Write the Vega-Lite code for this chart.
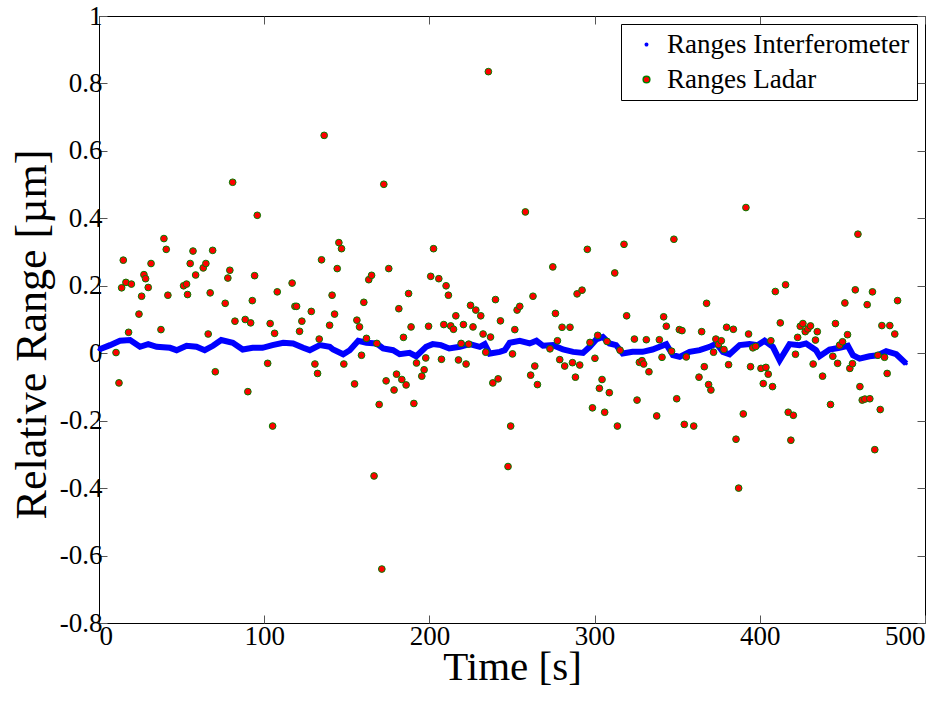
{
  "$schema": "https://vega.github.io/schema/vega-lite/v6.json",
  "width": 826,
  "height": 607,
  "autosize": {"type": "none"},
  "padding": {"left": 99, "top": 16, "right": 25, "bottom": 100},
  "background": "white",
  "config": {
    "view": {"stroke": "black", "strokeWidth": 1},
    "font": "Liberation Serif",
    "axis": {
      "labelFont": "Liberation Serif",
      "labelFontSize": 27,
      "labelColor": "black",
      "titleFont": "Liberation Serif",
      "titleFontWeight": "normal",
      "titleColor": "black",
      "grid": false,
      "domain": false,
      "tickColor": "#555555",
      "tickSize": -8,
      "tickWidth": 1
    },
    "legend": {
      "labelFont": "Liberation Serif",
      "labelFontSize": 27,
      "labelColor": "black",
      "labelLimit": 0
    }
  },
  "datasets": {
    "interf": [
      {"t": 0, "v": 0.011, "s": "Ranges Interferometer"},
      {"t": 6.7, "v": 0.024, "s": "Ranges Interferometer"},
      {"t": 12.7, "v": 0.037, "s": "Ranges Interferometer"},
      {"t": 18.8, "v": 0.039, "s": "Ranges Interferometer"},
      {"t": 24.8, "v": 0.019, "s": "Ranges Interferometer"},
      {"t": 29.8, "v": 0.027, "s": "Ranges Interferometer"},
      {"t": 34.9, "v": 0.019, "s": "Ranges Interferometer"},
      {"t": 43, "v": 0.016, "s": "Ranges Interferometer"},
      {"t": 47, "v": 0.009, "s": "Ranges Interferometer"},
      {"t": 53, "v": 0.022, "s": "Ranges Interferometer"},
      {"t": 59, "v": 0.019, "s": "Ranges Interferometer"},
      {"t": 64, "v": 0.009, "s": "Ranges Interferometer"},
      {"t": 69, "v": 0.022, "s": "Ranges Interferometer"},
      {"t": 74, "v": 0.039, "s": "Ranges Interferometer"},
      {"t": 81, "v": 0.031, "s": "Ranges Interferometer"},
      {"t": 87, "v": 0.011, "s": "Ranges Interferometer"},
      {"t": 93, "v": 0.016, "s": "Ranges Interferometer"},
      {"t": 99, "v": 0.016, "s": "Ranges Interferometer"},
      {"t": 105, "v": 0.024, "s": "Ranges Interferometer"},
      {"t": 111.5, "v": 0.031, "s": "Ranges Interferometer"},
      {"t": 117.5, "v": 0.029, "s": "Ranges Interferometer"},
      {"t": 123.6, "v": 0.016, "s": "Ranges Interferometer"},
      {"t": 127.6, "v": 0.009, "s": "Ranges Interferometer"},
      {"t": 133.7, "v": 0.024, "s": "Ranges Interferometer"},
      {"t": 139.7, "v": 0.019, "s": "Ranges Interferometer"},
      {"t": 141.7, "v": 0.011, "s": "Ranges Interferometer"},
      {"t": 147.8, "v": -0.003, "s": "Ranges Interferometer"},
      {"t": 151.8, "v": 0.009, "s": "Ranges Interferometer"},
      {"t": 156.9, "v": 0.037, "s": "Ranges Interferometer"},
      {"t": 161.9, "v": 0.031, "s": "Ranges Interferometer"},
      {"t": 168, "v": 0.029, "s": "Ranges Interferometer"},
      {"t": 172, "v": 0.014, "s": "Ranges Interferometer"},
      {"t": 178, "v": 0.009, "s": "Ranges Interferometer"},
      {"t": 182, "v": -0.003, "s": "Ranges Interferometer"},
      {"t": 188, "v": 0.001, "s": "Ranges Interferometer"},
      {"t": 192, "v": -0.009, "s": "Ranges Interferometer"},
      {"t": 198, "v": 0.019, "s": "Ranges Interferometer"},
      {"t": 202, "v": 0.027, "s": "Ranges Interferometer"},
      {"t": 207, "v": 0.024, "s": "Ranges Interferometer"},
      {"t": 212, "v": 0.014, "s": "Ranges Interferometer"},
      {"t": 218.4, "v": 0.019, "s": "Ranges Interferometer"},
      {"t": 224.4, "v": 0.027, "s": "Ranges Interferometer"},
      {"t": 230.5, "v": 0.019, "s": "Ranges Interferometer"},
      {"t": 233.5, "v": 0.027, "s": "Ranges Interferometer"},
      {"t": 236.5, "v": -0.001, "s": "Ranges Interferometer"},
      {"t": 242.6, "v": 0.004, "s": "Ranges Interferometer"},
      {"t": 245.6, "v": 0.009, "s": "Ranges Interferometer"},
      {"t": 248.6, "v": 0.031, "s": "Ranges Interferometer"},
      {"t": 254.7, "v": 0.037, "s": "Ranges Interferometer"},
      {"t": 260.7, "v": 0.029, "s": "Ranges Interferometer"},
      {"t": 264.8, "v": 0.037, "s": "Ranges Interferometer"},
      {"t": 268.8, "v": 0.022, "s": "Ranges Interferometer"},
      {"t": 274.8, "v": 0.024, "s": "Ranges Interferometer"},
      {"t": 280.9, "v": 0.011, "s": "Ranges Interferometer"},
      {"t": 287, "v": 0.004, "s": "Ranges Interferometer"},
      {"t": 293, "v": 0.001, "s": "Ranges Interferometer"},
      {"t": 297, "v": 0.019, "s": "Ranges Interferometer"},
      {"t": 301, "v": 0.041, "s": "Ranges Interferometer"},
      {"t": 305, "v": 0.048, "s": "Ranges Interferometer"},
      {"t": 309, "v": 0.029, "s": "Ranges Interferometer"},
      {"t": 313, "v": 0.024, "s": "Ranges Interferometer"},
      {"t": 317, "v": -0.001, "s": "Ranges Interferometer"},
      {"t": 323, "v": 0.004, "s": "Ranges Interferometer"},
      {"t": 329, "v": 0.004, "s": "Ranges Interferometer"},
      {"t": 335, "v": 0.011, "s": "Ranges Interferometer"},
      {"t": 343.4, "v": 0.027, "s": "Ranges Interferometer"},
      {"t": 347.4, "v": -0.006, "s": "Ranges Interferometer"},
      {"t": 351.5, "v": -0.011, "s": "Ranges Interferometer"},
      {"t": 357.5, "v": 0.004, "s": "Ranges Interferometer"},
      {"t": 363.6, "v": 0.009, "s": "Ranges Interferometer"},
      {"t": 369.6, "v": 0.019, "s": "Ranges Interferometer"},
      {"t": 373.7, "v": 0.029, "s": "Ranges Interferometer"},
      {"t": 377.7, "v": 0.004, "s": "Ranges Interferometer"},
      {"t": 381.7, "v": -0.003, "s": "Ranges Interferometer"},
      {"t": 387.8, "v": 0.024, "s": "Ranges Interferometer"},
      {"t": 393.8, "v": 0.027, "s": "Ranges Interferometer"},
      {"t": 398.8, "v": 0.024, "s": "Ranges Interferometer"},
      {"t": 402.9, "v": 0.037, "s": "Ranges Interferometer"},
      {"t": 407.9, "v": 0.019, "s": "Ranges Interferometer"},
      {"t": 412, "v": -0.021, "s": "Ranges Interferometer"},
      {"t": 418, "v": 0.027, "s": "Ranges Interferometer"},
      {"t": 424, "v": 0.024, "s": "Ranges Interferometer"},
      {"t": 428, "v": 0.029, "s": "Ranges Interferometer"},
      {"t": 434, "v": 0.009, "s": "Ranges Interferometer"},
      {"t": 436.2, "v": -0.009, "s": "Ranges Interferometer"},
      {"t": 442.2, "v": 0.011, "s": "Ranges Interferometer"},
      {"t": 448.3, "v": 0.016, "s": "Ranges Interferometer"},
      {"t": 453.3, "v": 0.022, "s": "Ranges Interferometer"},
      {"t": 456.4, "v": -0.006, "s": "Ranges Interferometer"},
      {"t": 460.4, "v": -0.016, "s": "Ranges Interferometer"},
      {"t": 466.4, "v": -0.009, "s": "Ranges Interferometer"},
      {"t": 471.5, "v": -0.006, "s": "Ranges Interferometer"},
      {"t": 476.5, "v": 0.006, "s": "Ranges Interferometer"},
      {"t": 482.6, "v": -0.003, "s": "Ranges Interferometer"},
      {"t": 488.6, "v": -0.031, "s": "Ranges Interferometer"}
    ],
    "ladar": [
      {"t": 10.3, "v": 0.002, "s": "Ranges Ladar"},
      {"t": 12.1, "v": -0.088, "s": "Ranges Ladar"},
      {"t": 13.7, "v": 0.194, "s": "Ranges Ladar"},
      {"t": 14.7, "v": 0.276, "s": "Ranges Ladar"},
      {"t": 16.3, "v": 0.21, "s": "Ranges Ladar"},
      {"t": 17.9, "v": 0.062, "s": "Ranges Ladar"},
      {"t": 19.6, "v": 0.205, "s": "Ranges Ladar"},
      {"t": 24.2, "v": 0.116, "s": "Ranges Ladar"},
      {"t": 25.8, "v": 0.169, "s": "Ranges Ladar"},
      {"t": 27.2, "v": 0.233, "s": "Ranges Ladar"},
      {"t": 28.2, "v": 0.221, "s": "Ranges Ladar"},
      {"t": 29.8, "v": 0.195, "s": "Ranges Ladar"},
      {"t": 31.5, "v": 0.266, "s": "Ranges Ladar"},
      {"t": 37.5, "v": 0.07, "s": "Ranges Ladar"},
      {"t": 39.3, "v": 0.34, "s": "Ranges Ladar"},
      {"t": 40.7, "v": 0.308, "s": "Ranges Ladar"},
      {"t": 41.7, "v": 0.172, "s": "Ranges Ladar"},
      {"t": 51.2, "v": 0.2, "s": "Ranges Ladar"},
      {"t": 53, "v": 0.205, "s": "Ranges Ladar"},
      {"t": 53.6, "v": 0.174, "s": "Ranges Ladar"},
      {"t": 55.2, "v": 0.266, "s": "Ranges Ladar"},
      {"t": 56.9, "v": 0.303, "s": "Ranges Ladar"},
      {"t": 58.5, "v": 0.232, "s": "Ranges Ladar"},
      {"t": 63.1, "v": 0.253, "s": "Ranges Ladar"},
      {"t": 64.7, "v": 0.266, "s": "Ranges Ladar"},
      {"t": 66.1, "v": 0.057, "s": "Ranges Ladar"},
      {"t": 67.3, "v": 0.179, "s": "Ranges Ladar"},
      {"t": 68.8, "v": 0.305, "s": "Ranges Ladar"},
      {"t": 70.4, "v": -0.055, "s": "Ranges Ladar"},
      {"t": 76.4, "v": 0.148, "s": "Ranges Ladar"},
      {"t": 78, "v": 0.223, "s": "Ranges Ladar"},
      {"t": 79.2, "v": 0.246, "s": "Ranges Ladar"},
      {"t": 80.9, "v": 0.507, "s": "Ranges Ladar"},
      {"t": 82.3, "v": 0.095, "s": "Ranges Ladar"},
      {"t": 88.5, "v": 0.1, "s": "Ranges Ladar"},
      {"t": 90.1, "v": -0.114, "s": "Ranges Ladar"},
      {"t": 91.8, "v": 0.09, "s": "Ranges Ladar"},
      {"t": 92.8, "v": 0.156, "s": "Ranges Ladar"},
      {"t": 94.2, "v": 0.23, "s": "Ranges Ladar"},
      {"t": 95.8, "v": 0.409, "s": "Ranges Ladar"},
      {"t": 102.1, "v": -0.03, "s": "Ranges Ladar"},
      {"t": 103.6, "v": 0.088, "s": "Ranges Ladar"},
      {"t": 105.1, "v": -0.216, "s": "Ranges Ladar"},
      {"t": 106.3, "v": 0.059, "s": "Ranges Ladar"},
      {"t": 107.9, "v": 0.182, "s": "Ranges Ladar"},
      {"t": 116.9, "v": 0.208, "s": "Ranges Ladar"},
      {"t": 118.6, "v": 0.139, "s": "Ranges Ladar"},
      {"t": 119.6, "v": 0.139, "s": "Ranges Ladar"},
      {"t": 121.4, "v": 0.065, "s": "Ranges Ladar"},
      {"t": 122.8, "v": 0.095, "s": "Ranges Ladar"},
      {"t": 128.5, "v": 0.124, "s": "Ranges Ladar"},
      {"t": 130.7, "v": -0.032, "s": "Ranges Ladar"},
      {"t": 132.3, "v": -0.06, "s": "Ranges Ladar"},
      {"t": 133.3, "v": 0.042, "s": "Ranges Ladar"},
      {"t": 134.7, "v": 0.277, "s": "Ranges Ladar"},
      {"t": 136.3, "v": 0.646, "s": "Ranges Ladar"},
      {"t": 139.6, "v": 0.083, "s": "Ranges Ladar"},
      {"t": 141.1, "v": 0.172, "s": "Ranges Ladar"},
      {"t": 142.6, "v": 0.116, "s": "Ranges Ladar"},
      {"t": 144.2, "v": 0.251, "s": "Ranges Ladar"},
      {"t": 145.2, "v": 0.328, "s": "Ranges Ladar"},
      {"t": 146.8, "v": 0.31, "s": "Ranges Ladar"},
      {"t": 148.2, "v": -0.032, "s": "Ranges Ladar"},
      {"t": 154.7, "v": -0.091, "s": "Ranges Ladar"},
      {"t": 156.1, "v": 0.098, "s": "Ranges Ladar"},
      {"t": 157.7, "v": 0.078, "s": "Ranges Ladar"},
      {"t": 158.9, "v": -0.006, "s": "Ranges Ladar"},
      {"t": 160.3, "v": 0.151, "s": "Ranges Ladar"},
      {"t": 161.9, "v": 0.044, "s": "Ranges Ladar"},
      {"t": 163.3, "v": 0.218, "s": "Ranges Ladar"},
      {"t": 165, "v": 0.231, "s": "Ranges Ladar"},
      {"t": 166.5, "v": -0.364, "s": "Ranges Ladar"},
      {"t": 168.2, "v": 0.029, "s": "Ranges Ladar"},
      {"t": 169.6, "v": -0.152, "s": "Ranges Ladar"},
      {"t": 171.2, "v": -0.64, "s": "Ranges Ladar"},
      {"t": 172.4, "v": 0.501, "s": "Ranges Ladar"},
      {"t": 173.8, "v": -0.082, "s": "Ranges Ladar"},
      {"t": 175.4, "v": 0.251, "s": "Ranges Ladar"},
      {"t": 178.6, "v": -0.109, "s": "Ranges Ladar"},
      {"t": 180.1, "v": -0.062, "s": "Ranges Ladar"},
      {"t": 181.5, "v": 0.132, "s": "Ranges Ladar"},
      {"t": 183.3, "v": -0.078, "s": "Ranges Ladar"},
      {"t": 184.3, "v": 0.047, "s": "Ranges Ladar"},
      {"t": 185.9, "v": -0.094, "s": "Ranges Ladar"},
      {"t": 187.4, "v": 0.177, "s": "Ranges Ladar"},
      {"t": 188.9, "v": 0.078, "s": "Ranges Ladar"},
      {"t": 190.6, "v": -0.149, "s": "Ranges Ladar"},
      {"t": 192.2, "v": -0.029, "s": "Ranges Ladar"},
      {"t": 195.4, "v": -0.068, "s": "Ranges Ladar"},
      {"t": 196.8, "v": -0.049, "s": "Ranges Ladar"},
      {"t": 197.8, "v": -0.014, "s": "Ranges Ladar"},
      {"t": 199.5, "v": 0.08, "s": "Ranges Ladar"},
      {"t": 200.8, "v": 0.228, "s": "Ranges Ladar"},
      {"t": 202.5, "v": 0.31, "s": "Ranges Ladar"},
      {"t": 205.7, "v": 0.221, "s": "Ranges Ladar"},
      {"t": 207.3, "v": -0.018, "s": "Ranges Ladar"},
      {"t": 208.7, "v": 0.085, "s": "Ranges Ladar"},
      {"t": 210.1, "v": 0.2, "s": "Ranges Ladar"},
      {"t": 211.5, "v": 0.172, "s": "Ranges Ladar"},
      {"t": 212.9, "v": 0.081, "s": "Ranges Ladar"},
      {"t": 214.6, "v": 0.071, "s": "Ranges Ladar"},
      {"t": 216, "v": 0.111, "s": "Ranges Ladar"},
      {"t": 217.6, "v": -0.02, "s": "Ranges Ladar"},
      {"t": 219.2, "v": 0.029, "s": "Ranges Ladar"},
      {"t": 220.6, "v": 0.085, "s": "Ranges Ladar"},
      {"t": 222.2, "v": -0.032, "s": "Ranges Ladar"},
      {"t": 223.8, "v": 0.027, "s": "Ranges Ladar"},
      {"t": 224.9, "v": 0.142, "s": "Ranges Ladar"},
      {"t": 226.4, "v": 0.078, "s": "Ranges Ladar"},
      {"t": 228.1, "v": 0.128, "s": "Ranges Ladar"},
      {"t": 231.1, "v": 0.111, "s": "Ranges Ladar"},
      {"t": 232.5, "v": 0.057, "s": "Ranges Ladar"},
      {"t": 234.1, "v": 0.003, "s": "Ranges Ladar"},
      {"t": 235.7, "v": 0.835, "s": "Ranges Ladar"},
      {"t": 237, "v": 0.048, "s": "Ranges Ladar"},
      {"t": 238.4, "v": -0.088, "s": "Ranges Ladar"},
      {"t": 240, "v": 0.159, "s": "Ranges Ladar"},
      {"t": 241.6, "v": -0.076, "s": "Ranges Ladar"},
      {"t": 243, "v": 0.096, "s": "Ranges Ladar"},
      {"t": 247.6, "v": -0.336, "s": "Ranges Ladar"},
      {"t": 249.2, "v": -0.216, "s": "Ranges Ladar"},
      {"t": 250.3, "v": -0.002, "s": "Ranges Ladar"},
      {"t": 251.7, "v": 0.07, "s": "Ranges Ladar"},
      {"t": 253.1, "v": 0.128, "s": "Ranges Ladar"},
      {"t": 254.7, "v": 0.139, "s": "Ranges Ladar"},
      {"t": 258.1, "v": 0.419, "s": "Ranges Ladar"},
      {"t": 261.3, "v": -0.065, "s": "Ranges Ladar"},
      {"t": 262.7, "v": 0.169, "s": "Ranges Ladar"},
      {"t": 263.8, "v": -0.038, "s": "Ranges Ladar"},
      {"t": 265.4, "v": -0.093, "s": "Ranges Ladar"},
      {"t": 273, "v": 0.013, "s": "Ranges Ladar"},
      {"t": 274.7, "v": 0.256, "s": "Ranges Ladar"},
      {"t": 276.3, "v": 0.118, "s": "Ranges Ladar"},
      {"t": 277.5, "v": 0.037, "s": "Ranges Ladar"},
      {"t": 278.9, "v": -0.019, "s": "Ranges Ladar"},
      {"t": 280.3, "v": 0.077, "s": "Ranges Ladar"},
      {"t": 281.9, "v": -0.038, "s": "Ranges Ladar"},
      {"t": 285.1, "v": 0.077, "s": "Ranges Ladar"},
      {"t": 286.6, "v": -0.028, "s": "Ranges Ladar"},
      {"t": 288.4, "v": -0.071, "s": "Ranges Ladar"},
      {"t": 289.4, "v": 0.176, "s": "Ranges Ladar"},
      {"t": 291, "v": -0.035, "s": "Ranges Ladar"},
      {"t": 292.4, "v": 0.187, "s": "Ranges Ladar"},
      {"t": 295.6, "v": 0.308, "s": "Ranges Ladar"},
      {"t": 297.2, "v": 0.032, "s": "Ranges Ladar"},
      {"t": 298.7, "v": -0.162, "s": "Ranges Ladar"},
      {"t": 300.2, "v": -0.015, "s": "Ranges Ladar"},
      {"t": 301.9, "v": 0.053, "s": "Ranges Ladar"},
      {"t": 302.9, "v": -0.104, "s": "Ranges Ladar"},
      {"t": 304.5, "v": -0.078, "s": "Ranges Ladar"},
      {"t": 306.1, "v": -0.175, "s": "Ranges Ladar"},
      {"t": 307.5, "v": 0.035, "s": "Ranges Ladar"},
      {"t": 308.9, "v": -0.117, "s": "Ranges Ladar"},
      {"t": 312.2, "v": 0.238, "s": "Ranges Ladar"},
      {"t": 313.8, "v": -0.216, "s": "Ranges Ladar"},
      {"t": 315.4, "v": 0.009, "s": "Ranges Ladar"},
      {"t": 317.8, "v": 0.323, "s": "Ranges Ladar"},
      {"t": 319.4, "v": 0.111, "s": "Ranges Ladar"},
      {"t": 324.1, "v": 0.042, "s": "Ranges Ladar"},
      {"t": 325.7, "v": -0.139, "s": "Ranges Ladar"},
      {"t": 327.1, "v": -0.027, "s": "Ranges Ladar"},
      {"t": 328.7, "v": -0.022, "s": "Ranges Ladar"},
      {"t": 329.7, "v": -0.032, "s": "Ranges Ladar"},
      {"t": 331.3, "v": 0.04, "s": "Ranges Ladar"},
      {"t": 332.9, "v": -0.055, "s": "Ranges Ladar"},
      {"t": 337.6, "v": -0.186, "s": "Ranges Ladar"},
      {"t": 339.2, "v": 0.04, "s": "Ranges Ladar"},
      {"t": 340.8, "v": -0.012, "s": "Ranges Ladar"},
      {"t": 341.8, "v": 0.108, "s": "Ranges Ladar"},
      {"t": 343.4, "v": 0.08, "s": "Ranges Ladar"},
      {"t": 346.6, "v": 0.006, "s": "Ranges Ladar"},
      {"t": 348, "v": 0.338, "s": "Ranges Ladar"},
      {"t": 349.7, "v": -0.135, "s": "Ranges Ladar"},
      {"t": 351.3, "v": 0.07, "s": "Ranges Ladar"},
      {"t": 352.9, "v": 0.067, "s": "Ranges Ladar"},
      {"t": 354.3, "v": -0.211, "s": "Ranges Ladar"},
      {"t": 355.5, "v": -0.011, "s": "Ranges Ladar"},
      {"t": 360, "v": -0.216, "s": "Ranges Ladar"},
      {"t": 363.2, "v": -0.071, "s": "Ranges Ladar"},
      {"t": 364.8, "v": 0.064, "s": "Ranges Ladar"},
      {"t": 366.4, "v": -0.04, "s": "Ranges Ladar"},
      {"t": 367.8, "v": 0.148, "s": "Ranges Ladar"},
      {"t": 369, "v": -0.093, "s": "Ranges Ladar"},
      {"t": 370.4, "v": -0.109, "s": "Ranges Ladar"},
      {"t": 372, "v": 0.003, "s": "Ranges Ladar"},
      {"t": 373.4, "v": 0.042, "s": "Ranges Ladar"},
      {"t": 375, "v": 0.026, "s": "Ranges Ladar"},
      {"t": 376.7, "v": 0.037, "s": "Ranges Ladar"},
      {"t": 378.3, "v": 0.011, "s": "Ranges Ladar"},
      {"t": 379.9, "v": 0.077, "s": "Ranges Ladar"},
      {"t": 381.1, "v": -0.034, "s": "Ranges Ladar"},
      {"t": 384, "v": 0.071, "s": "Ranges Ladar"},
      {"t": 385.6, "v": -0.255, "s": "Ranges Ladar"},
      {"t": 387.2, "v": -0.4, "s": "Ranges Ladar"},
      {"t": 390, "v": -0.18, "s": "Ranges Ladar"},
      {"t": 391.6, "v": 0.432, "s": "Ranges Ladar"},
      {"t": 393.2, "v": 0.057, "s": "Ranges Ladar"},
      {"t": 394.4, "v": -0.04, "s": "Ranges Ladar"},
      {"t": 395.8, "v": 0.016, "s": "Ranges Ladar"},
      {"t": 397.5, "v": 0.02, "s": "Ranges Ladar"},
      {"t": 400.7, "v": -0.045, "s": "Ranges Ladar"},
      {"t": 402.1, "v": -0.09, "s": "Ranges Ladar"},
      {"t": 403.7, "v": -0.042, "s": "Ranges Ladar"},
      {"t": 405.1, "v": -0.062, "s": "Ranges Ladar"},
      {"t": 406.7, "v": 0.037, "s": "Ranges Ladar"},
      {"t": 407.7, "v": -0.099, "s": "Ranges Ladar"},
      {"t": 409.4, "v": 0.183, "s": "Ranges Ladar"},
      {"t": 412.4, "v": 0.09, "s": "Ranges Ladar"},
      {"t": 415.6, "v": 0.203, "s": "Ranges Ladar"},
      {"t": 417.2, "v": -0.175, "s": "Ranges Ladar"},
      {"t": 418.8, "v": -0.258, "s": "Ranges Ladar"},
      {"t": 420.3, "v": -0.184, "s": "Ranges Ladar"},
      {"t": 421.6, "v": -0.003, "s": "Ranges Ladar"},
      {"t": 422.9, "v": 0.047, "s": "Ranges Ladar"},
      {"t": 424.5, "v": 0.08, "s": "Ranges Ladar"},
      {"t": 426.1, "v": 0.088, "s": "Ranges Ladar"},
      {"t": 427.5, "v": 0.064, "s": "Ranges Ladar"},
      {"t": 429.1, "v": 0.072, "s": "Ranges Ladar"},
      {"t": 430.7, "v": 0.081, "s": "Ranges Ladar"},
      {"t": 432.3, "v": -0.032, "s": "Ranges Ladar"},
      {"t": 433.7, "v": 0.039, "s": "Ranges Ladar"},
      {"t": 434.8, "v": 0.064, "s": "Ranges Ladar"},
      {"t": 438, "v": -0.068, "s": "Ranges Ladar"},
      {"t": 442.8, "v": -0.152, "s": "Ranges Ladar"},
      {"t": 444.2, "v": -0.009, "s": "Ranges Ladar"},
      {"t": 445.8, "v": 0.088, "s": "Ranges Ladar"},
      {"t": 447.1, "v": -0.03, "s": "Ranges Ladar"},
      {"t": 448.3, "v": 0.024, "s": "Ranges Ladar"},
      {"t": 450.1, "v": 0.034, "s": "Ranges Ladar"},
      {"t": 451.5, "v": 0.149, "s": "Ranges Ladar"},
      {"t": 453.1, "v": 0.055, "s": "Ranges Ladar"},
      {"t": 454.5, "v": -0.045, "s": "Ranges Ladar"},
      {"t": 456.1, "v": -0.031, "s": "Ranges Ladar"},
      {"t": 457.8, "v": 0.188, "s": "Ranges Ladar"},
      {"t": 459.4, "v": 0.353, "s": "Ranges Ladar"},
      {"t": 460.6, "v": -0.099, "s": "Ranges Ladar"},
      {"t": 462, "v": -0.139, "s": "Ranges Ladar"},
      {"t": 463.6, "v": -0.136, "s": "Ranges Ladar"},
      {"t": 465, "v": 0.144, "s": "Ranges Ladar"},
      {"t": 466.6, "v": -0.135, "s": "Ranges Ladar"},
      {"t": 468.2, "v": 0.182, "s": "Ranges Ladar"},
      {"t": 469.6, "v": -0.286, "s": "Ranges Ladar"},
      {"t": 471.5, "v": -0.006, "s": "Ranges Ladar"},
      {"t": 472.9, "v": -0.167, "s": "Ranges Ladar"},
      {"t": 473.9, "v": 0.082, "s": "Ranges Ladar"},
      {"t": 475.5, "v": -0.012, "s": "Ranges Ladar"},
      {"t": 477.1, "v": -0.06, "s": "Ranges Ladar"},
      {"t": 478.7, "v": 0.082, "s": "Ranges Ladar"},
      {"t": 481.7, "v": 0.057, "s": "Ranges Ladar"},
      {"t": 483.4, "v": 0.156, "s": "Ranges Ladar"}
    ]
  },
  "layer": [
    {
      "data": {"name": "interf"},
      "mark": {"type": "line", "color": "#0000ff", "strokeWidth": 6},
      "encoding": {
        "x": {"field": "t", "type": "quantitative", "scale": {"domain": [0, 500], "nice": false},
          "axis": {"orient": "bottom", "values": [0, 100, 200, 300, 400, 500], "title": "Time [s]",
            "labelFont": "Liberation Serif", "labelFontSize": 27, "labelPadding": 8,
            "titleFont": "Liberation Serif", "titleFontSize": 41, "titleFontWeight": "normal",
            "titleBaseline": "alphabetic", "titleY": 56}},
        "y": {"field": "v", "type": "quantitative", "scale": {"domain": [-0.8, 1], "nice": false, "zero": false},
          "axis": {"orient": "left", "values": [-0.8, -0.6, -0.4, -0.2, 0, 0.2, 0.4, 0.6, 0.8, 1],
            "labelExpr": "'' + round(datum.value*10)/10",
            "labelFont": "Liberation Serif", "labelFontSize": 27, "labelPadding": 5,
            "title": "Relative Range [µm]",
            "titleFont": "Liberation Serif", "titleFontSize": 44, "titleFontWeight": "normal",
            "titleBaseline": "alphabetic", "titleX": -54, "titleY": 318, "titleAngle": -90, "titleAlign": "center"}}
      }
    },
    {
      "data": {"name": "interf"},
      "mark": {"type": "point", "filled": true, "strokeWidth": 1, "opacity": 1},
      "encoding": {
        "x": {"field": "t", "type": "quantitative", "axis": null},
        "y": {"field": "v", "type": "quantitative", "axis": null},
        "color": {"field": "s", "type": "nominal", "scale": {"domain": ["Ranges Interferometer", "Ranges Ladar"], "range": ["#0000ff", "#ff0000"]},
          "legend": {"title": null, "orient": "none", "legendX": 522, "legendY": 8, "strokeColor": "black", "fillColor": "white",
            "padding": 7, "symbolOffset": 5, "labelOffset": 7, "rowPadding": 7, "cornerRadius": 0,
            "labelFont": "Liberation Serif", "labelFontSize": 27, "labelColor": "black"}},
        "stroke": {"field": "s", "type": "nominal", "scale": {"domain": ["Ranges Interferometer", "Ranges Ladar"], "range": ["#0000ff", "#008000"]}, "legend": {"title": null}},
        "size": {"field": "s", "type": "nominal", "scale": {"domain": ["Ranges Interferometer", "Ranges Ladar"], "range": [6, 45]}, "legend": {"title": null}}
      }
    },
    {
      "data": {"name": "ladar"},
      "mark": {"type": "point", "filled": true, "strokeWidth": 1, "opacity": 1},
      "encoding": {
        "x": {"field": "t", "type": "quantitative",
          "axis": {"orient": "top", "values": [0, 100, 200, 300, 400, 500], "labels": false, "title": null}},
        "y": {"field": "v", "type": "quantitative",
          "axis": {"orient": "right", "values": [-0.8, -0.6, -0.4, -0.2, 0, 0.2, 0.4, 0.6, 0.8, 1], "labels": false, "title": null}},
        "color": {"field": "s", "type": "nominal"},
        "stroke": {"field": "s", "type": "nominal"},
        "size": {"field": "s", "type": "nominal"}
      }
    }
  ],
  "resolve": {"axis": {"x": "independent", "y": "independent"}}
}
